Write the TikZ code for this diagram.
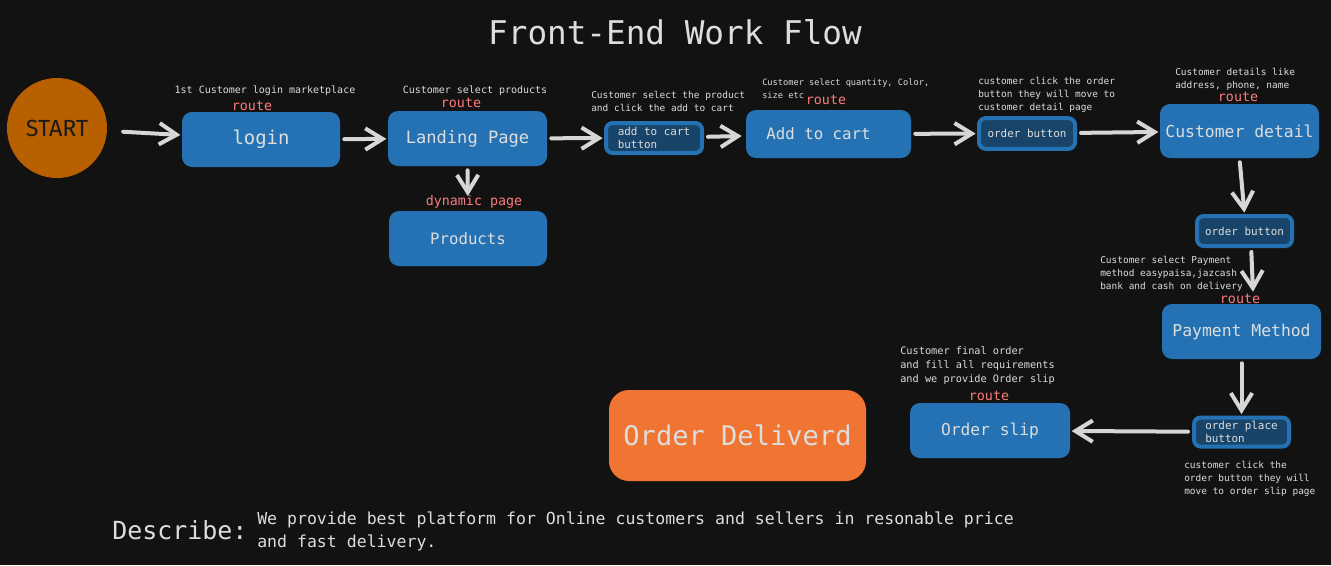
\documentclass[tikz,border=0pt]{standalone}
\usepackage{fontspec}
\setmainfont{DejaVu Sans Mono}
\newfontfamily\handfont{Fira Sans}
\usetikzlibrary{arrows.meta}
\definecolor{bg}{HTML}{121212}
\definecolor{boxblue}{HTML}{2472B3}
\definecolor{btnfill}{HTML}{174468}
\definecolor{txt}{HTML}{DDDDDD}
\definecolor{routered}{HTML}{FF7B7B}
\definecolor{startor}{HTML}{B85F00}
\definecolor{starttxt}{HTML}{1A1A1A}
\definecolor{delor}{HTML}{F07533}
\definecolor{arrowgray}{HTML}{D6D6D6}
\tikzset{
  box/.style={rectangle, rounded corners=7.5pt, fill=boxblue, text=txt, inner sep=0pt, align=center},
  btn/.style={rectangle, rounded corners=5pt, fill=btnfill, draw=boxblue, line width=3pt, text=txt, inner sep=0pt, align=left, font=\fontsize{8.2}{10}\selectfont},
  note/.style={text=txt, inner sep=0pt, align=left, font=\fontsize{7.5}{9.75}\selectfont},
  notesm/.style={note, font=\fontsize{7.1}{9.75}\selectfont},
  routelbl/.style={text=routered, inner sep=0pt, font=\fontsize{10}{12}\selectfont},
  arr/.style={draw=arrowgray, line width=3pt, line cap=round, -{Straight Barb[length=13pt,width=16pt,line width=3pt]}, shorten <=3pt, shorten >=1pt},
}
\begin{document}
\begin{tikzpicture}[x=0.75pt,y=-0.75pt]
\fill[bg] (0,0) rectangle (1331,565);
\useasboundingbox (0,0) rectangle (1331,565);

% title
\node[text=txt, inner sep=0pt, font=\fontsize{24.5}{28}\selectfont] (title) at (675,32) {Front-End Work Flow};

% start
\node[circle, fill=startor, minimum size=75pt, inner sep=0pt, text=starttxt, font=\handfont\fontsize{17.5}{20}\selectfont] (start) at (57,128) {START};

% boxes
\node[box, minimum width=118.5pt, minimum height=41.25pt, font=\fontsize{14.2}{17}\selectfont] (login) at (261,139.5) {login};
\node[box, minimum width=119.25pt, minimum height=41.25pt, font=\fontsize{12.8}{15}\selectfont] (landing) at (467.5,138.5) {Landing Page};
\node[box, minimum width=118.5pt, minimum height=41.25pt, font=\fontsize{11.8}{14}\selectfont] (products) at (468,238.5) {Products};
\node[btn, minimum width=72pt, minimum height=22.5pt] (addbtn) at (654,138) {add to cart\\button};
\node[box, minimum width=123.75pt, minimum height=36pt, font=\fontsize{11.8}{14}\selectfont] (addcart) at (828.5,134) {Add to cart\hspace{15pt}};
\node[btn, minimum width=72pt, minimum height=23pt] (ob1) at (1027,133.5) {order button};
\node[box, minimum width=119.25pt, minimum height=40.5pt, font=\fontsize{12.3}{15}\selectfont] (cdetail) at (1239.5,131) {Customer detail};
\node[btn, minimum width=71.25pt, minimum height=22.5pt] (ob2) at (1244.5,231) {order button};
\node[box, minimum width=119.25pt, minimum height=41.25pt, font=\fontsize{12.3}{15}\selectfont] (payment) at (1241.5,331.5) {Payment Method};
\node[btn, minimum width=71.25pt, minimum height=21.75pt] (opb) at (1241.5,432) {order place\\button\hspace{30pt}};
\node[box, minimum width=120pt, minimum height=41.25pt, font=\fontsize{12.2}{15}\selectfont] (slip) at (990,430.5) {Order slip};
\node[box, fill=delor, rounded corners=15pt, minimum width=192.75pt, minimum height=68.25pt, font=\fontsize{20.3}{24}\selectfont] (delivered) at (737.5,435.5) {Order Deliverd};

% notes
\node[note] (n1) at (265,91) {1st Customer login marketplace};
\node[routelbl] (r1) at (252,106) {route};
\node[note] (n2) at (475,91) {Customer select products};
\node[routelbl] (r2) at (461,103) {route};
\node[routelbl] (dyn) at (474,202) {dynamic page};
\node[notesm, anchor=west] (n3) at (591,101.5) {Customer select the product\\and click the add to cart};
\node[note, font=\fontsize{6.5}{9.75}\selectfont, anchor=west] (n4) at (762,88.5) {Customer select quantity, Color,\\size etc};
\node[routelbl] (r4) at (826,100) {route};
\node[notesm, anchor=west] (n5) at (978,95) {customer click the order\\button they will move to\\customer detail page};
\node[notesm, anchor=west] (n6) at (1175,79.5) {Customer details like\\address, phone, name};
\node[routelbl] (r6) at (1238,97) {route};
\node[notesm, anchor=west] (n7) at (1100,274) {Customer select Payment\\method easypaisa,jazcash\\bank and cash on delivery};
\node[routelbl] (r7) at (1240,299) {route};
\node[note, font=\fontsize{7.7}{10.5}\selectfont, anchor=west] (n8) at (900,366) {Customer final order\\and fill all requirements\\and we provide Order slip};
\node[routelbl] (r8) at (989,396) {route};
\node[notesm, anchor=west] (n9) at (1184,479) {customer click the\\order button they will\\move to order slip page};

% describe
\node[text=txt, inner sep=0pt, anchor=west, font=\fontsize{18.7}{22}\selectfont] (describe) at (112,530) {Describe:};
\node[text=txt, inner sep=0pt, anchor=west, align=left, font=\fontsize{12.4}{17.25}\selectfont] (body) at (257,531.5) {We provide best platform for Online customers and sellers in resonable price\\and fast delivery.};

% arrows
\draw[arr, shorten <=12pt] (start) -- (login);
\draw[arr] (login) -- (landing);
\draw[arr, shorten >=11pt] (landing.south) -- (products.north);
\draw[arr] (landing) -- (addbtn);
\draw[arr, shorten >=3pt] (addbtn) -- (addcart);
\draw[arr] (addcart) -- (ob1);
\draw[arr] (ob1) -- (cdetail);
\draw[arr] (cdetail.south) -- (ob2.north);
\draw[arr, shorten >=9pt] ([xshift=5]ob2.south) -- ([xshift=9]payment.north);
\draw[arr] (payment.south) -- (opb.north);
\draw[arr] (opb) -- (slip);
\end{tikzpicture}
\end{document}
